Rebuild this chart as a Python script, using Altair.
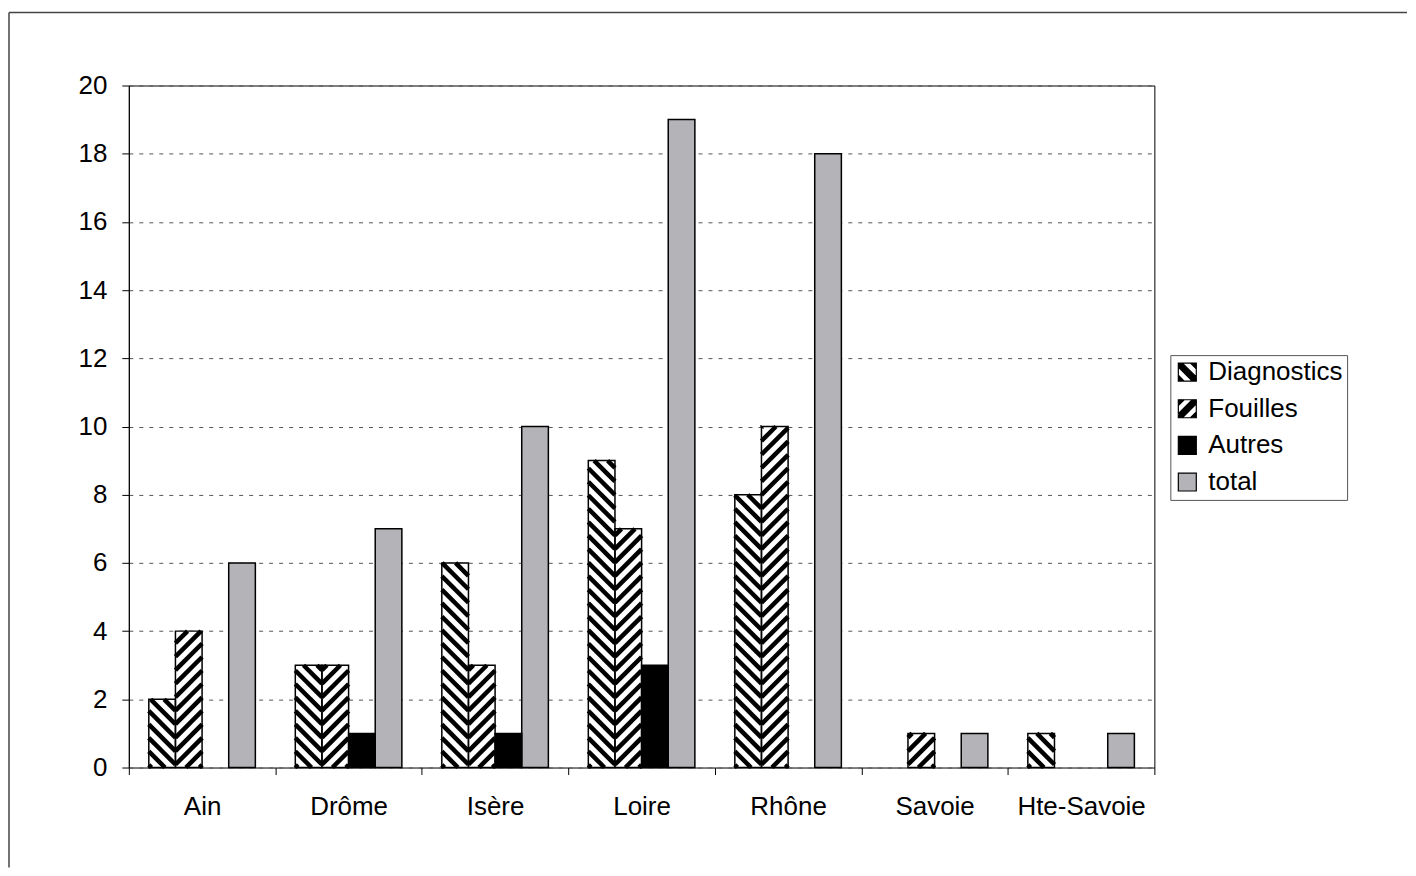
import altair as alt
import numpy as np
import pandas as pd

# ---------------- data ----------------
departements = ["Ain", "Drôme", "Isère", "Loire", "Rhône", "Savoie", "Hte-Savoie"]
series = ["Diagnostics", "Fouilles", "Autres", "total"]
diagnostics = [2, 3, 6, 9, 8, 0, 1]
fouilles = [4, 3, 3, 7, 10, 1, 0]
autres = [0, 1, 1, 3, 0, 0, 0]
total = [6, 7, 10, 19, 18, 1, 1]

# ---------------- layout ----------------
W, H = 1027, 683
XMAX, YMAX = len(departements), 20
sx, sy = W / XMAX, H / YMAX
BAR = 1 / 5.5            # bar width in group units (gap 150%)
MARGIN = 0.75 / 5.5
GREY = "#b4b4b8"
FONT = "Liberation Sans"
FS = 26

values_by_serie = dict(zip(series, [diagnostics, fouilles, autres, total]))
rows = []
for gi, dep in enumerate(departements):
    for si, s in enumerate(series):
        x0 = gi + MARGIN + si * BAR
        rows.append(dict(dep=dep, serie=s, value=values_by_serie[s][gi], x0=x0, x1=x0 + BAR))
bars = pd.DataFrame(rows)

# hatch segments clipped to each hatched bar (pixel geometry -> data units)
P = 13.5      # vertical period of the hatch, px
PH = 3.0
hrows = []
for r in rows:
    if r["serie"] not in ("Diagnostics", "Fouilles") or r["value"] <= 0:
        continue
    Wp, Hp = BAR * sx, r["value"] * sy
    k = int(np.floor(-Wp / P)) - 1
    while True:
        c = k * P + PH
        if c > Hp:
            break
        u0, u1 = max(0.0, -c), min(Wp, Hp - c)
        if u1 > u0:
            if r["serie"] == "Fouilles":
                xa, xb = u0, u1
            else:
                xa, xb = Wp - u0, Wp - u1
            hrows.append(dict(x0=r["x0"] + xa / sx, value=(u0 + c) / sy,
                              x1=r["x0"] + xb / sx, v1=(u1 + c) / sy))
        k += 1
hatch = pd.DataFrame(hrows)


# legend symbols: black square with white stripe holes
def poly_clip_band(c1, c2, mirror):
    pts = [(-1, -1), (1, -1), (1, 1), (-1, 1)]

    def clip(poly, f):
        out = []
        n = len(poly)
        for i in range(n):
            a, b = poly[i], poly[(i + 1) % n]
            fa, fb = f(a), f(b)
            if fa >= 0:
                out.append(a)
            if (fa >= 0) != (fb >= 0):
                t = fa / (fa - fb)
                out.append((a[0] + t * (b[0] - a[0]), a[1] + t * (b[1] - a[1])))
        return out

    poly = clip(pts, lambda p: (p[1] - p[0]) - c1)
    poly = clip(poly, lambda p: c2 - (p[1] - p[0]))
    if mirror:
        poly = [(-x, y) for x, y in poly]
    n = len(poly)
    area = sum(poly[i][0] * poly[(i + 1) % n][1] - poly[(i + 1) % n][0] * poly[i][1] for i in range(n))
    if area > 0:
        poly = poly[::-1]
    return "M" + " L".join(f"{x:.3f} {y:.3f}" for x, y in poly) + " Z"


def hatched_symbol(mirror):
    outer = "M-1 -1 L1 -1 L1 1 L-1 1 Z "
    holes = [poly_clip_band(-1.35, -0.45, mirror), poly_clip_band(0.45, 1.35, mirror)]
    return outer + " ".join(holes)


diag_path = hatched_symbol(False)
foui_path = hatched_symbol(True)

xscale = alt.Scale(domain=[0, XMAX], nice=False, zero=False)
yscale = alt.Scale(domain=[0, YMAX], nice=False)

label_expr = " : ".join(f"datum.value == {i} ? '{d}'" for i, d in enumerate(departements)) + " : ''"

x_axis = alt.Axis(
    values=list(range(XMAX + 1)), title=None, grid=False, domain=False,
    tickSize=7, tickColor="black", tickWidth=1,
    labelExpr=label_expr,
    labelOffset=sx / 2, labelAlign="center", labelFlush=False, labelOverlap=False,
    labelPadding=19, labelFontSize=FS, labelColor="black", labelFont=FONT,
)
y_axis = alt.Axis(
    values=list(range(0, YMAX + 1, 2)), title=None, grid=True,
    gridDash=[4, 6], gridColor="#555555", gridWidth=1,
    domain=True, domainColor="black", tickSize=7, tickColor="black",
    labelPadding=15, labelFontSize=FS, labelColor="black", labelFont=FONT,
)

one = pd.DataFrame({"f": [0]})
frame_left = alt.Chart(one).mark_rule(color="#444444", strokeWidth=1.5).encode(
    x=alt.value(-120), y=alt.value(-73), y2=alt.value(783)
)
frame_top = alt.Chart(one).mark_rule(color="#444444", strokeWidth=1.5).encode(
    x=alt.value(-120), x2=alt.value(1280), y=alt.value(-73)
)

X = alt.X("x0:Q", scale=xscale, axis=x_axis, title=None)
Y = alt.Y("value:Q", scale=yscale, axis=y_axis, title=None)

base = alt.Chart(bars).transform_filter("datum.value > 0")

fills = base.mark_rect(strokeOpacity=0).encode(
    x=X, x2="x1:Q", y=Y, y2=alt.datum(0),
    fill=alt.FillValue(
        value="white",
        condition=[
            {"test": f"datum.serie == '{series[2]}'", "value": "black"},
            {"test": f"datum.serie == '{series[3]}'", "value": GREY},
        ],
    ),
)

hatches = alt.Chart(hatch).mark_rule(color="black", strokeWidth=4.5, strokeCap="butt").encode(
    x=X, x2="x1:Q", y=Y, y2="v1:Q",
)

outlines = base.mark_rect(fillOpacity=0, stroke="black", strokeWidth=1.5).encode(
    x=X, x2="x1:Q", y=Y, y2=alt.datum(0),
)

leg = alt.Legend(
    title=None, orient="none", legendX=1043, legendY=270,
    symbolSize=324, symbolStrokeWidth=1.2, symbolOpacity=1,
    labelOffset=8,
)
legend_layer = alt.Chart(bars).transform_filter("false").mark_point(
    filled=True, strokeWidth=1.2, size=324, opacity=1
).encode(
    x=X, y=Y,
    color=alt.Color("serie:N", scale=alt.Scale(domain=series, range=["black", "black", "black", GREY]),
                    legend=leg),
    shape=alt.Shape("serie:N", scale=alt.Scale(domain=series, range=[diag_path, foui_path, "square", "square"]),
                    legend=leg),
    stroke=alt.Stroke("serie:N", scale=alt.Scale(domain=series, range=["black", "black", "black", "black"]),
                      legend=leg),
)

chart = alt.layer(frame_left, frame_top, fills, hatches, outlines, legend_layer).properties(
    width=W, height=H,
    padding={"left": 0, "top": 3, "right": 0, "bottom": 0},
).configure(
    font=FONT,
).configure_view(
    stroke="black", strokeWidth=1,
).configure_legend(
    labelFontSize=FS, labelFont=FONT, labelColor="black",
    strokeColor="#555555", padding=4, rowPadding=10.7, fillColor="white",
)

chart.save("out.html", embed_options={"renderer": "svg", "actions": False})
